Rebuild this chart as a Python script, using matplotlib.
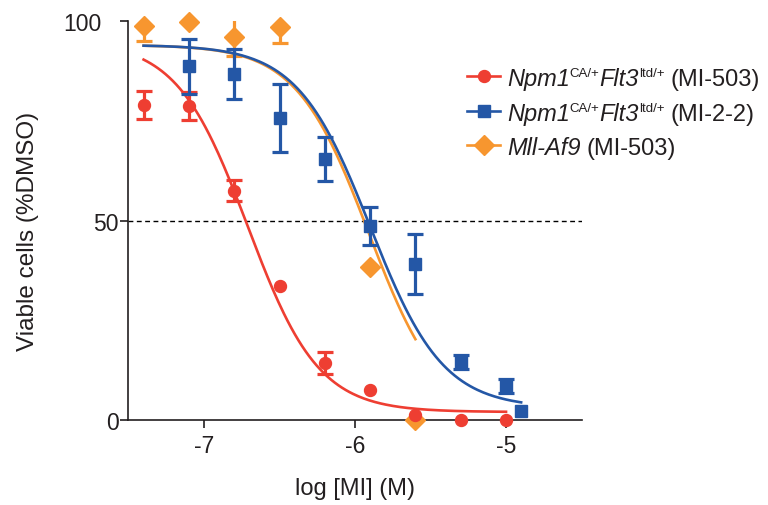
import numpy as np
import matplotlib
matplotlib.use('agg')
import matplotlib.pyplot as plt
from matplotlib.lines import Line2D
from matplotlib.transforms import IdentityTransform, ScaledTranslation

plt.rcParams['font.family'] = ['Liberation Sans', 'DejaVu Sans']

# log [MI] (M) concentrations
x_red = [-7.4, -7.1, -6.8, -6.5, -6.2, -5.9, -5.6, -5.3, -5.0]
y_red = [79.0, 78.7, 57.5, 33.6, 14.3, 7.5, 1.3, 0.0, 0.0]
e_red = [3.5, 3.6, 2.7, 0.0, 2.8, 0.0, 0.0, 0.0, 0.0]

x_blue = [-7.1, -6.8, -6.5, -6.2, -5.9, -5.6, -5.3, -5.0, -4.9]
y_blue = [88.7, 86.7, 75.7, 65.4, 48.6, 39.1, 14.5, 8.5, 2.3]
e_blue = [6.9, 6.3, 8.5, 5.5, 4.7, 7.5, 1.8, 1.8, 0.0]

x_orange = [-7.4, -7.1, -6.8, -6.5, -5.9, -5.6]
y_orange = [98.7, 99.7, 96.0, 98.5, 38.3, 0.0]
e_orange = [3.7, 0.0, 4.8, 4.0, 0.0, 0.0]

# four-parameter fits: top, bottom, logIC50, hill slope, x range
fit_red = (95.0, 2.0, -6.71, 1.85, -7.4, -5.0)
fit_blue = (94.0, 3.0, -5.90, 1.8, -7.4, -4.9)
fit_orange = (94.0, 0.0, -5.91, 1.81, -7.4, -5.6)

# legend pieces: (text, kind) where kind is 'it', 'rm' or 'sup'
legend_rows = [
    [('Npm1', 'it'), ('CA/+', 'sup'), ('Flt3', 'it'), ('ltd/+', 'sup'), ('(MI-503)', 'rm')],
    [('Npm1', 'it'), ('CA/+', 'sup'), ('Flt3', 'it'), ('ltd/+', 'sup'), ('(MI-2-2)', 'rm')],
    [('Mll-Af9', 'it'), ('(MI-503)', 'rm')],
]

RED = '#EE3E32'
BLUE = '#2457A6'
ORANGE = '#F7962F'
INK = '#231f20'


def sigmoid(fit):
    top, bot, ic50, hill, x0, x1 = fit
    xs = np.linspace(x0, x1, 200)
    return xs, bot + (top - bot) / (1 + 10 ** ((xs - ic50) * hill))


fig = plt.figure(figsize=(7.68, 5.06), dpi=100)
ax = fig.add_axes([0.1673, 0.168, 0.5899, 0.7885])

series = [(x_orange, y_orange, e_orange, fit_orange, ORANGE, 'D', 10),
          (x_red, y_red, e_red, fit_red, RED, 'o', 8.6),
          (x_blue, y_blue, e_blue, fit_blue, BLUE, 's', 8.8)]

for z, (xs, ys, es, fit, c, m, ms) in enumerate(series):
    cx, cy = sigmoid(fit)
    ax.plot(cx, cy, color=c, lw=1.9, zorder=2 + z * 3)
    xs, ys, es = np.array(xs), np.array(ys), np.array(es)
    k = es > 0
    ax.errorbar(xs[k], ys[k], yerr=es[k], fmt='none', ecolor=c, elinewidth=2.3,
                capsize=5.8, capthick=2.3, zorder=3 + z * 3)
    ax.plot(xs, ys, ls='none', marker=m, ms=ms, color=c, mec=c,
            clip_on=False, zorder=4 + z * 3)

ax.axhline(50, color='black', lw=1, ls=(0, (3.5, 2.5)), zorder=1)

ax.set_xlim(-7.5, -4.5)
ax.set_ylim(0, 100)
ax.set_xticks([-7, -6, -5])
ax.set_xticklabels(['-7', '-6', '-5'])
ax.set_yticks([0, 50, 100])
ax.set_yticklabels(['0', '50', '100'])
for s in ['top', 'right']:
    ax.spines[s].set_visible(False)
for s in ['left', 'bottom']:
    ax.spines[s].set_linewidth(1.2)
    ax.spines[s].set_color(INK)
ax.tick_params(axis='both', length=6, width=1.2, color=INK,
               labelsize=16.5, labelcolor=INK)
ax.tick_params(axis='x', pad=4)
ax.tick_params(axis='y', pad=1)
lab100 = ax.get_yticklabels()[2]
lab100.set_transform(lab100.get_transform() + ScaledTranslation(-0.17, 0, fig.dpi_scale_trans))

ax.set_xlabel('log [MI] (M)', fontsize=17, color=INK)
ax.xaxis.set_label_coords(0.5, -0.143)
ax.set_ylabel('Viable cells (%DMSO)', fontsize=17.5, color=INK)
ax.yaxis.set_label_coords(-0.197, 0.476)

# hand-built legend, pixel coordinates from the top-left corner
H = 506
renderer = fig.canvas.get_renderer()
colors = [RED, BLUE, ORANGE]
markers = [('o', 8.6), ('s', 8.2), ('D', 10)]
baselines = [86, 121, 155]
for row, col, (mk, ms), base in zip(legend_rows, colors, markers, baselines):
    yc = H - (base - 9)
    fig.add_artist(Line2D([467, 500], [yc, yc], color=col, lw=1.9,
                          transform=IdentityTransform()))
    fig.add_artist(Line2D([483.5], [yc], color=col, marker=mk, ms=ms,
                          transform=IdentityTransform()))
    x = 507
    for txt, kind in row:
        if kind == 'sup':
            t = fig.text(x, H - base + 9, txt, fontsize=9.5, color=INK,
                         transform=IdentityTransform(), va='baseline')
        else:
            if kind == 'rm':
                x += 6
            t = fig.text(x, H - base, txt, fontsize=17, color=INK,
                         style='italic' if kind == 'it' else 'normal',
                         transform=IdentityTransform(), va='baseline')
        x = t.get_window_extent(renderer).x1

fig.savefig('out.png', dpi=100)
